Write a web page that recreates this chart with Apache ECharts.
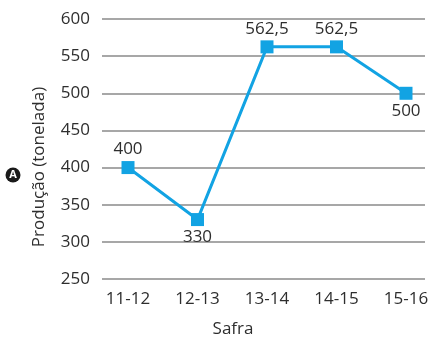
<!DOCTYPE html>
<html><head><meta charset="utf-8">
<script src="https://cdn.jsdelivr.net/npm/echarts@6/dist/echarts.min.js"></script>
<style>html,body{margin:0;padding:0;background:#fff}#c{width:432px;height:339px}</style>
</head><body><div id="c"></div>
<script>
const categories = ['11-12', '12-13', '13-14', '14-15', '15-16'];
const production = [400, 330, 562.5, 562.5, 500];
const labelPositions = ['top', 'bottom', 'top', 'top', 'bottom'];
const yTicks = [250, 300, 350, 400, 450, 500, 550, 600];

const FONT = 'Open Sans';
const TXT = '#2e2e2e';
const BLUE = '#12a3e3';

const chart = echarts.init(document.getElementById('c'));
chart.setOption({
  animation: false,
  grid: [
    { left: 102, right: 7, top: 19, bottom: 60 },
    { left: 128, right: 26, top: 19, bottom: 60 }
  ],
  xAxis: [
    { gridIndex: 0, type: 'category', data: categories, show: false },
    {
      gridIndex: 1, type: 'category', data: categories, boundaryGap: false,
      axisLine: { show: false }, axisTick: { show: false },
      axisLabel: { color: TXT, fontFamily: FONT, fontSize: 17, margin: 12 }
    }
  ],
  yAxis: [
    {
      gridIndex: 0, type: 'value', min: yTicks[0], max: yTicks[yTicks.length - 1], interval: 50,
      axisLine: { show: false }, axisTick: { show: false },
      axisLabel: { color: TXT, fontFamily: FONT, fontSize: 17, margin: 12 },
      splitLine: { lineStyle: { color: '#8a8a8a', width: 1.5 } }
    },
    {
      gridIndex: 1, type: 'value', min: yTicks[0], max: yTicks[yTicks.length - 1], interval: 50,
      show: false
    }
  ],
  series: [{
    type: 'line',
    xAxisIndex: 1, yAxisIndex: 1,
    data: production.map((v, i) => ({
      value: v,
      label: { position: labelPositions[i] }
    })),
    symbol: 'rect', symbolSize: 13,
    lineStyle: { color: BLUE, width: 3 },
    itemStyle: { color: BLUE },
    label: {
      show: true, color: TXT, fontFamily: FONT, fontSize: 17, distance: 3,
      formatter: p => String(p.value).replace('.', ',')
    }
  }],
  graphic: [
    {
      type: 'text',
      style: { text: 'Safra', x: 233, y: 329, align: 'center', verticalAlign: 'middle',
        fill: TXT, font: '17px "Open Sans"' }
    },
    {
      type: 'text', x: 39, y: 167, rotation: Math.PI / 2,
      style: { text: 'Produção (tonelada)', x: 0, y: 0, align: 'center', verticalAlign: 'middle',
        fill: TXT, font: '17px "Open Sans"' }
    },
    {
      type: 'circle', shape: { cx: 13, cy: 175, r: 7.5 }, style: { fill: '#1a1a1a' }
    },
    {
      type: 'text', style: { text: 'A', x: 13, y: 175, align: 'center', verticalAlign: 'middle',
        fill: '#fff', font: 'bold 11px "Open Sans"' }
    }
  ]
});
</script></body></html>
